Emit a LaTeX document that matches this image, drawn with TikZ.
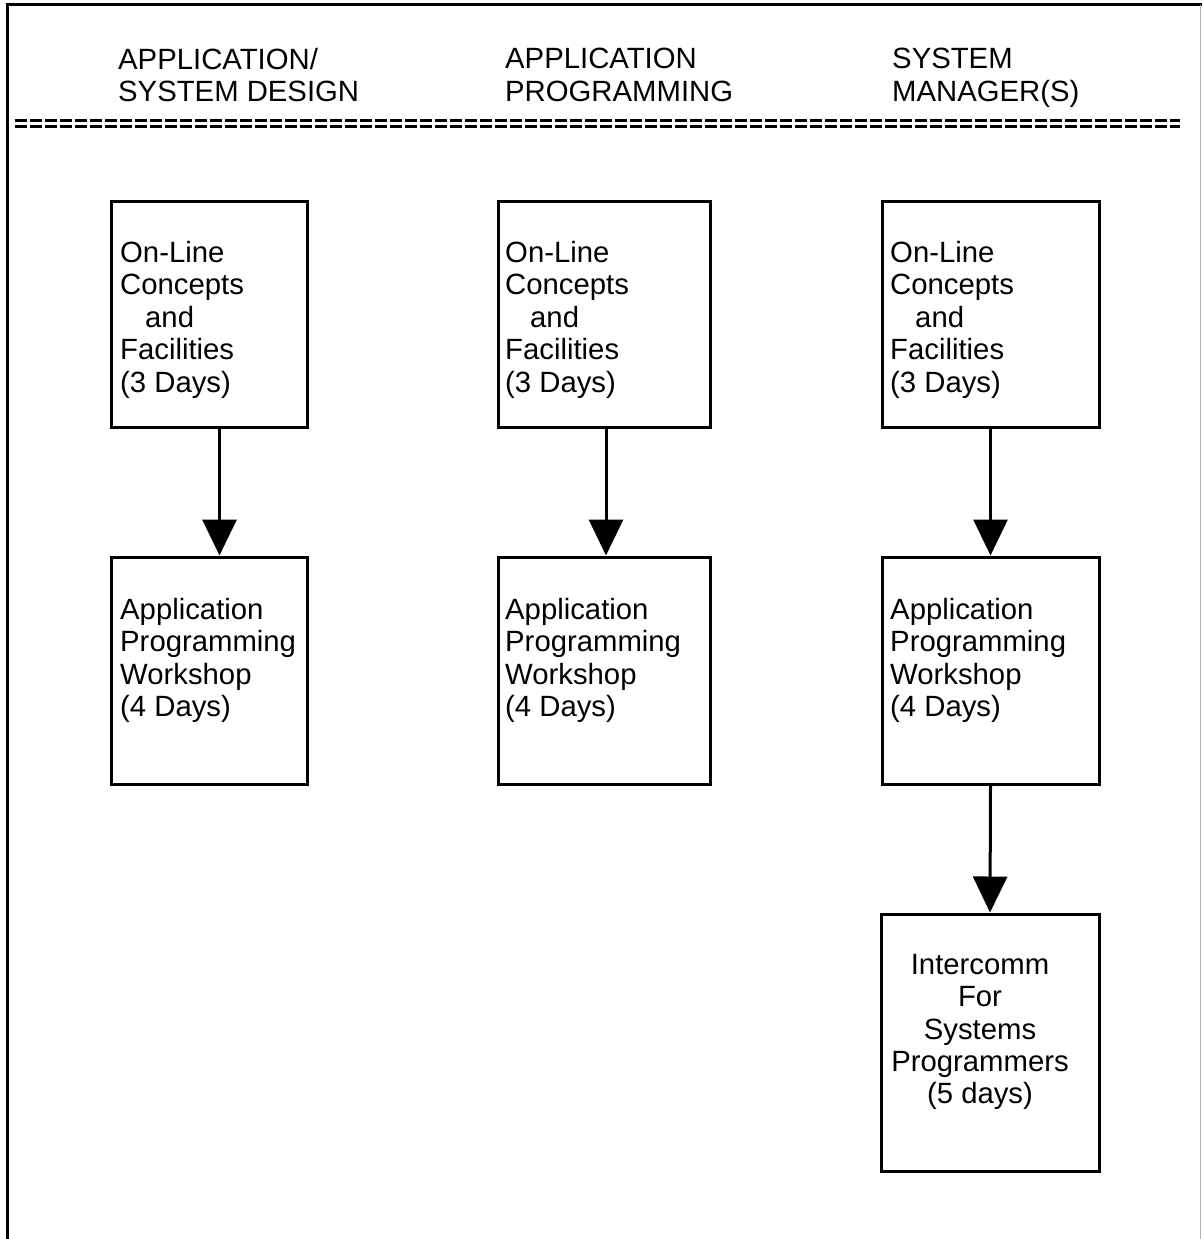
\documentclass[tikz,border=0pt]{standalone}
\usepackage{fontspec}
\setmainfont{Liberation Sans}
\usetikzlibrary{arrows.meta}
\begin{document}
\begin{tikzpicture}[x=1pt,y=-1pt,
  box/.style={draw=black, line width=3pt, minimum width=#1, inner sep=0pt},
  txt/.style={inner sep=0pt, align=left, anchor=north west, font=\fontsize{29.3}{32.4}\selectfont},
  ctxt/.style={inner sep=0pt, align=center, anchor=north, font=\fontsize{29.3}{32.4}\selectfont},
  arr/.style={line width=3pt, -{Triangle[length=36pt,width=34pt]}},
  frame/.style={line width=3pt},
  eqline/.style={line width=3pt, dash pattern=on 12pt off 3pt}]
\useasboundingbox (0,0) rectangle (1202,1239);
\fill[white] (0,0) rectangle (1202,1239);
% frame
\coordinate (fbl) at (7,1239);
\coordinate (ftl) at (7,5);
\coordinate (ftr) at (1202,5);
\coordinate (frt) at (1200,5);
\coordinate (frb) at (1200,1239);
\draw[frame] (fbl) -- (ftl) -- (ftr);
\draw[gray!60, line width=1pt] (frt) -- (frb);
% headers
\node[txt] (h1) at (118,48) {APPLICATION/\\SYSTEM DESIGN};
\node[txt] (h2) at (505,48) {APPLICATION\\PROGRAMMING};
\node[txt] (h3) at (892,48) {SYSTEM\\MANAGER(S)};
% double dashed rule
\coordinate (e1a) at (15,120);
\coordinate (e1b) at (1180,120);
\coordinate (e2a) at (15,126.5);
\coordinate (e2b) at (1180,126.5);
\draw[eqline] (e1a) -- (e1b);
\draw[eqline] (e2a) -- (e2b);
% boxes
\node[box=196pt, minimum height=226pt] (a1) at (209.5,314) {};
\node[box=196pt, minimum height=227pt] (a2) at (209.5,670.5) {};
\node[box=212pt, minimum height=226pt] (b1) at (604,314) {};
\node[box=212pt, minimum height=227pt] (b2) at (604,670.5) {};
\node[box=217pt, minimum height=226pt] (c1) at (990.5,314) {};
\node[box=217pt, minimum height=227pt] (c2) at (990.5,670.5) {};
\node[box=218pt, minimum height=257pt] (c3) at (990,1042.5) {};
% texts
\node[txt] (ta1) at (120,241) {On-Line\\Concepts\\\hspace*{25pt}and\\Facilities\\(3 Days)};
\node[txt] (tb1) at (505,241) {On-Line\\Concepts\\\hspace*{25pt}and\\Facilities\\(3 Days)};
\node[txt] (tc1) at (890,241) {On-Line\\Concepts\\\hspace*{25pt}and\\Facilities\\(3 Days)};
\node[txt] (ta2) at (120,598) {Application\\Programming\\Workshop\\(4 Days)};
\node[txt] (tb2) at (505,598) {Application\\Programming\\Workshop\\(4 Days)};
\node[txt] (tc2) at (890,598) {Application\\Programming\\Workshop\\(4 Days)};
\node[ctxt] (tc3) at (980,954) {Intercomm\\For\\Systems\\Programmers\\(5 days)};
% arrows
\draw[arr] ([xshift=10pt]a1.south) -- ([xshift=10pt]a2.north);
\draw[arr] ([xshift=2pt]b1.south) -- ([xshift=2pt]b2.north);
\draw[arr] (c1.south) -- (c2.north);
\draw[arr] (c2.south) -- (c3.north);
\end{tikzpicture}
\end{document}
